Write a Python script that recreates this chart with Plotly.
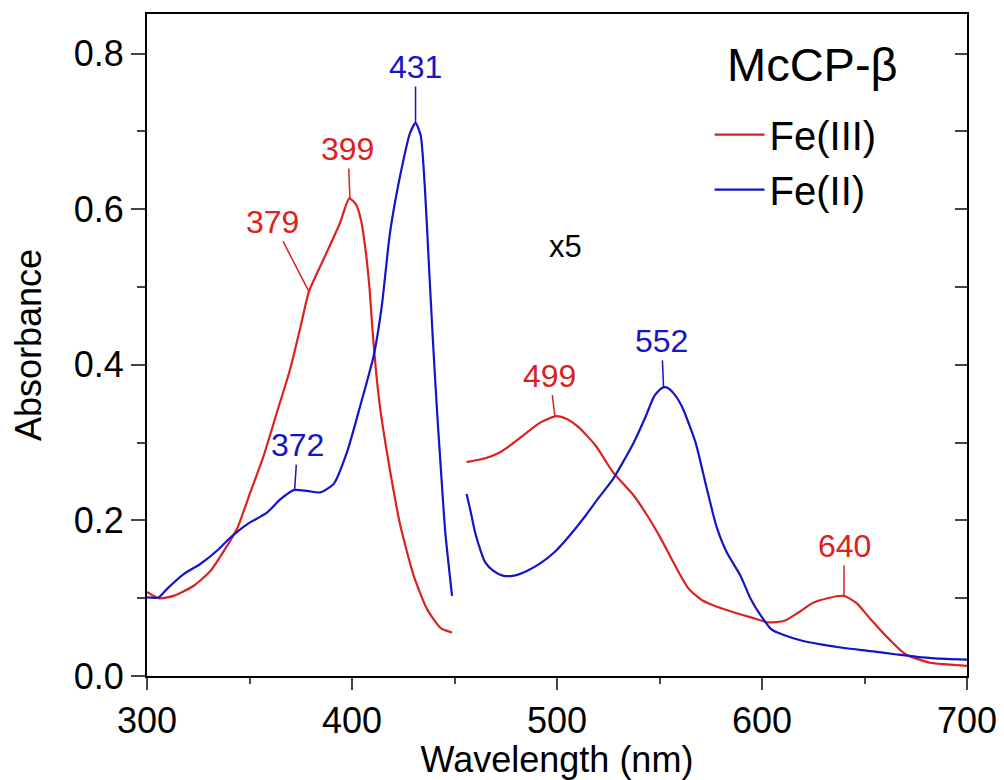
import numpy as np
import plotly.graph_objects as go

# ---------------- data ----------------
# Fe(III) Soret region (300-450 nm)
fe3_wl_uv = [300, 305.7, 313, 322.8, 330.9, 339, 343.9, 350.4, 356.9, 363.4, 369.9, 375, 379,
             387.6, 394.1, 398.7, 402, 404.5, 406.5, 408.5, 410, 411.5, 413.8, 418.7, 423.6,
             430.1, 436.6, 443.1, 448.8]
fe3_abs_uv = [0.108, 0.100, 0.103, 0.116, 0.135, 0.167, 0.189, 0.236, 0.283, 0.339, 0.395, 0.450, 0.494,
              0.544, 0.582, 0.614, 0.606, 0.585, 0.550, 0.500, 0.445, 0.398, 0.343, 0.262, 0.193,
              0.129, 0.086, 0.062, 0.056]
# Fe(III) visible region (455-700 nm), shown x5
fe3_wl_vis = [455.9, 465, 471.8, 478, 485.3, 492, 499.6, 505, 510.5, 518.9, 527.3, 537.4, 544.1,
              550.8, 557.6, 564.3, 571, 578, 586.1, 595, 603, 611, 618, 624.8, 632, 639.9, 646,
              653, 661, 670, 682, 690, 700]
fe3_abs_vis = [0.275, 0.280, 0.287, 0.298, 0.313, 0.326, 0.334, 0.330, 0.320, 0.296, 0.262, 0.232,
               0.206, 0.176, 0.142, 0.112, 0.097, 0.089, 0.082, 0.075, 0.069, 0.071, 0.082, 0.094,
               0.100, 0.103, 0.094, 0.073, 0.050, 0.028, 0.017, 0.015, 0.013]

# Fe(II) Soret region (300-450 nm)
fe2_wl_uv = [300, 305.7, 309.8, 317.9, 326, 334.1, 340.7, 348.8, 358.5, 365, 371.5, 378, 384.6,
             391.1, 397.6, 404.1, 410.6, 414.5, 418.5, 423.4, 428.3, 431, 433.5, 435.5, 437.5, 439.5,
             441.5, 443.5, 445.5, 448.8]
fe2_abs_uv = [0.101, 0.101, 0.112, 0.131, 0.144, 0.161, 0.178, 0.195, 0.210, 0.227, 0.239, 0.238,
              0.236, 0.247, 0.288, 0.348, 0.412, 0.475, 0.569, 0.642, 0.698, 0.711, 0.695, 0.630,
              0.530, 0.430, 0.340, 0.260, 0.185, 0.103]
# Fe(II) visible region (455-700 nm), shown x5
fe2_wl_vis = [455.9, 458, 460, 462.5, 465, 469, 473.5, 479, 485.3, 492, 498.7, 506, 513.9, 520,
              527.3, 537.4, 543, 547.5, 551, 553.4, 557, 561, 567.6, 572.7, 577.7, 582.8, 589.5,
              594.5, 599.6, 604.6, 611.3, 620, 628, 640, 653, 665, 678, 690, 700]
fe2_abs_vis = [0.234, 0.210, 0.185, 0.163, 0.146, 0.135, 0.129, 0.129, 0.135, 0.145, 0.159, 0.180,
               0.206, 0.228, 0.253, 0.300, 0.332, 0.360, 0.370, 0.371, 0.363, 0.346, 0.300, 0.245,
               0.193, 0.159, 0.129, 0.099, 0.077, 0.060, 0.052, 0.045, 0.041, 0.036, 0.032, 0.028,
               0.024, 0.022, 0.021]

# labelled peaks
fe3_peaks = [379, 399, 499, 640]
fe2_peaks = [372, 431, 552]

RED = "#DD2020"
BLUE = "#1414C8"
FONT = "Liberation Sans, Arial, sans-serif"

fe3_x = fe3_wl_uv + [None] + fe3_wl_vis
fe3_y = fe3_abs_uv + [None] + fe3_abs_vis
fe2_x = fe2_wl_uv + [None] + fe2_wl_vis
fe2_y = fe2_abs_uv + [None] + fe2_abs_vis

fig = go.Figure()
fig.add_trace(go.Scatter(x=fe3_x, y=fe3_y, mode="lines", name="Fe(III)",
                         line=dict(color=RED, width=2.2, shape="spline", smoothing=0.6),
                         connectgaps=False))
fig.add_trace(go.Scatter(x=fe2_x, y=fe2_y, mode="lines", name="Fe(II)",
                         line=dict(color=BLUE, width=2.2, shape="spline", smoothing=0.6),
                         connectgaps=False))


def peak_y(wl, wls_a, abs_a, wls_b, abs_b):
    if wl <= 450:
        return float(np.interp(wl, wls_a, abs_a))
    return float(np.interp(wl, wls_b, abs_b))


offsets = {379: (-36, -70), 399: (-2, -50), 499: (-5, -41), 640: (0, -50),
           372: (3, -45), 431: (0, -56), 552: (-2, -47)}

annotations = []
for peaks, wa, aa, wb, ab, col in [(fe3_peaks, fe3_wl_uv, fe3_abs_uv, fe3_wl_vis, fe3_abs_vis, RED),
                                   (fe2_peaks, fe2_wl_uv, fe2_abs_uv, fe2_wl_vis, fe2_abs_vis, BLUE)]:
    for wl in peaks:
        y = peak_y(wl, wa, aa, wb, ab)
        ax, ay = offsets[wl]
        annotations.append(dict(x=wl, y=y, xref="x", yref="y", text=str(wl), showarrow=True,
                                arrowhead=0, arrowwidth=1.5, arrowcolor=col, ax=ax, ay=ay,
                                font=dict(family=FONT, size=32, color=col)))

annotations.append(dict(x=504, y=0.552, xref="x", yref="y", text="x5", showarrow=False,
                        xanchor="center", yanchor="middle",
                        font=dict(family=FONT, size=31, color="black")))
annotations.append(dict(x=0.812, y=0.924, xref="paper", yref="paper", text="McCP-β",
                        showarrow=False, xanchor="center", yanchor="middle",
                        font=dict(family=FONT, size=47, color="black")))

# page body adds an 8px margin, so offsets are compensated here
fig.update_layout(
    width=996, height=772,
    margin=dict(l=139, r=37, t=6, b=104),
    paper_bgcolor="white", plot_bgcolor="white",
    font=dict(family=FONT, size=36, color="black"),
    showlegend=True,
    legend=dict(x=0.686, y=0.867, xanchor="left", yanchor="top",
                font=dict(family=FONT, size=40, color="black"),
                bgcolor="rgba(0,0,0,0)", itemwidth=50, tracegroupgap=0),
    annotations=annotations,
    xaxis=dict(range=[300, 700], dtick=100, tick0=300, ticks="outside", ticklen=12, tickwidth=2,
               showline=True, linewidth=2, linecolor="black", mirror=True, showgrid=False,
               zeroline=False, tickfont=dict(size=36), automargin=False,
               minor=dict(dtick=50, ticks="outside", ticklen=6, tickwidth=2, showgrid=False),
               title=dict(text="Wavelength (nm)", font=dict(size=36), standoff=0)),
    yaxis=dict(range=[0, 0.851], dtick=0.2, tick0=0, ticks="outside", ticklen=14, tickwidth=2,
               showline=True, linewidth=2, linecolor="black", mirror=True, showgrid=False,
               zeroline=False, tickformat=".1f", tickfont=dict(size=36), automargin=False,
               minor=dict(dtick=0.1, ticks="outside", ticklen=8, tickwidth=2, showgrid=False),
               title=dict(text="Absorbance", font=dict(size=36), standoff=22)),
    yaxis2=dict(range=[0, 0.851], overlaying="y", side="right", dtick=0.1, tick0=0,
                ticks="inside", ticklen=12, tickwidth=2, showticklabels=False, showgrid=False,
                zeroline=False, showline=False, automargin=False),
)
# invisible anchor trace for the right-hand tick axis
fig.add_trace(go.Scatter(x=[300], y=[0], yaxis="y2", mode="markers", showlegend=False,
                         marker=dict(opacity=0), hoverinfo="skip"))

fig.write_html("out.html")
